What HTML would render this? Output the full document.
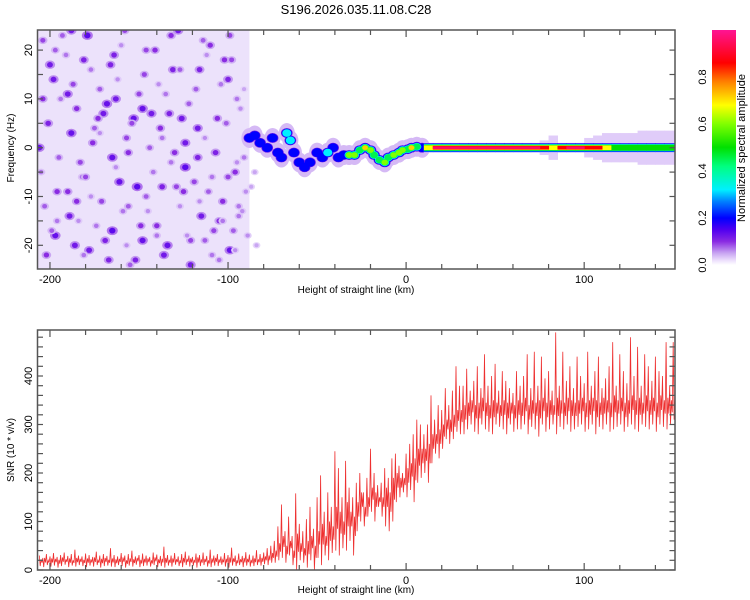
<!DOCTYPE html>
<html><head><meta charset="utf-8">
<style>
html,body{margin:0;padding:0;background:#fff;}
svg{display:block;font-family:"Liberation Sans",sans-serif;}
</style></head>
<body>
<svg id="chart" width="750" height="600" viewBox="0 0 750 600" xmlns="http://www.w3.org/2000/svg">
<defs>
<linearGradient id="cmap" x1="0" y1="1" x2="0" y2="0">
<stop offset="0" stop-color="#ffffff"/><stop offset="0.02" stop-color="#ecdffc"/><stop offset="0.05" stop-color="#c9a6f2"/>
<stop offset="0.1" stop-color="#8a2be2"/><stop offset="0.15" stop-color="#5000f0"/><stop offset="0.2" stop-color="#0000ff"/>
<stop offset="0.27" stop-color="#0080ff"/><stop offset="0.32" stop-color="#00f0ff"/><stop offset="0.42" stop-color="#00ff80"/>
<stop offset="0.5" stop-color="#00e000"/><stop offset="0.6" stop-color="#80ff00"/><stop offset="0.68" stop-color="#ffff00"/>
<stop offset="0.78" stop-color="#ff8000"/><stop offset="0.86" stop-color="#ff0000"/><stop offset="1" stop-color="#ff1493"/>
</linearGradient>
<clipPath id="clipTop"><rect x="37.5" y="30" width="637.5" height="239"/></clipPath>
<clipPath id="clipBot"><rect x="37.5" y="330" width="637.5" height="240"/></clipPath>
</defs>
<text x="356" y="14" font-size="13" text-anchor="middle" fill="#000">S196.2026.035.11.08.C28</text>
<g id="topMarks" clip-path="url(#clipTop)"></g>
<g id="botMarks" clip-path="url(#clipBot)"></g>
<g id="axes"></g>
<rect x="712" y="30" width="24" height="235" fill="url(#cmap)"/>
<text transform="translate(745,148) rotate(-90)" font-size="11" text-anchor="middle" fill="#000">Normalized spectral amplitude</text>
<text x="356" y="293" font-size="10" text-anchor="middle">Height of straight line (km)</text>
<text x="356" y="593" font-size="10" text-anchor="middle">Height of straight line (km)</text>
<text transform="translate(14,148) rotate(-90)" font-size="10" text-anchor="middle">Frequency (Hz)</text>
<text transform="translate(14,450) rotate(-90)" font-size="10" text-anchor="middle">SNR (10 * v/v)</text>
</svg>
<script>
const xTickLabels=[-200,-100,0,100];
const topYTickLabels=[-20,-10,0,10,20];
const botYTickLabels=[0,100,200,300,400];
const cbarTickLabels=[0.0,0.2,0.4,0.6,0.8];

const noiseKm=[-204,-198,-191,-185,-179,-172,-166,-160,-153,-147,-141,-135,-128,-122,-116,-110,-104,-98,-93,-88,
-201,-195,-188,-182,-176,-170,-163,-157,-151,-144,-138,-132,-126,-119,-113,-107,-101,-96,-91,-86,
-203,-197,-190,-184,-178,-171,-165,-159,-152,-146,-140,-134,-127,-121,-115,-109,-103,-97,-92,-87,
-200,-194,-187,-181,-175,-168,-162,-156,-150,-143,-137,-131,-124,-118,-112,-106,-100,-95,-90,-85,
-205,-196,-189,-183,-177,-169,-161,-155,-149,-142,-136,-129,-123,-117,-111,-105,-99,-94,-89,-84,
-202,-193,-186,-177,-167,-158,-148,-139,-130,-121,-114,-105,-99,-95,
-204,-196,-188,-180,-172,-164,-156,-148,-140,-132,-124,-116,-108,-100,-94,
-199,-190,-181,-173,-165,-157,-146,-137,-127,-117,-109,-102,-96,-91,
-206,-197,-185,-174,-163,-154,-145,-133,-125,-113,-103];
const noiseHz=[22,14,19,8,23,12,17,21,6,15,20,11,24,9,16,21,13,18,8,3,
5,-2,3,-6,1,7,-4,2,-8,0,4,-3,6,-7,2,-1,5,-5,-2,1,
-12,-18,-9,-15,-21,-11,-17,-13,-23,-10,-16,-20,-12,-19,-14,-22,-11,-17,-13,-8,
17,10,13,18,4,9,14,-1,11,7,2,16,-4,12,19,6,-6,10,-9,-5,
-5,-9,-14,-3,-10,-19,-7,-24,-16,-5,-22,-8,-18,-2,-9,-15,-21,-12,-18,-20,
-22,23,-20,16,-23,24,-19,13,-1,-24,22,-23,23,-3,
10,-15,24,-6,3,19,-12,8,-18,23,1,-11,-17,14,-14,
-17,11,-22,6,-2,-20,20,-8,16,4,-6,18,-21,12,
0,20,-11,-16,10,5,-13,7,-9,-19,-15];
const noiseAmp=[0.09,0.12,0.07,0.1,0.14,0.08,0.11,0.06,0.13,0.09,0.1,0.07,0.12,0.08,0.11,0.1,0.07,0.09,0.06,0.05,
0.11,0.08,0.13,0.07,0.1,0.12,0.06,0.09,0.14,0.08,0.1,0.07,0.12,0.09,0.06,0.11,0.08,0.1,0.07,0.06,
0.08,0.13,0.1,0.06,0.12,0.09,0.14,0.07,0.11,0.08,0.1,0.13,0.06,0.09,0.12,0.07,0.1,0.08,0.06,0.05,
0.12,0.07,0.09,0.11,0.08,0.13,0.06,0.1,0.09,0.12,0.07,0.11,0.14,0.08,0.06,0.1,0.09,0.07,0.06,0.05,
0.07,0.1,0.12,0.09,0.06,0.11,0.13,0.08,0.1,0.07,0.12,0.09,0.06,0.11,0.08,0.1,0.13,0.07,0.06,0.05,
0.1,0.08,0.12,0.07,0.11,0.09,0.13,0.06,0.1,0.12,0.08,0.07,0.09,0.06,
0.1,0.07,0.12,0.09,0.06,0.11,0.08,0.13,0.07,0.1,0.12,0.06,0.09,0.11,0.07,
0.08,0.12,0.07,0.1,0.13,0.06,0.09,0.11,0.08,0.12,0.07,0.1,0.06,0.05,
0.13,0.08,0.1,0.07,0.12,0.09,0.06,0.11,0.1,0.08,0.07];

const ridgeKm=[-88,-85,-82,-78,-75,-72,-70,-67,-65,-63,-60,-57,-54,-50,-47,-44,-41,-38,-35,-32,-29,-26,-23,-20,-18,-15,-12,-10,-7,-4,-2,1,3,6,9];
const ridgeHz=[2,2.5,1,0,2,-1,-2,3,1.5,-1,-3,-4,-3,-1,-2,-1,0,-2,-1.5,-1.5,-1.5,-0.5,0,-0.5,-1.5,-2.5,-3,-2,-1.5,-1,-0.5,-0.3,0,0.2,0];
const ridgeAmp=[0.25,0.3,0.3,0.3,0.3,0.25,0.3,0.35,0.35,0.2,0.2,0.3,0.25,0.25,0.3,0.35,0.3,0.2,0.3,0.6,0.7,0.5,0.85,0.6,0.55,0.5,0.6,0.5,0.6,0.7,0.6,0.5,0.8,0.5,0.3];

const bandKm=[10,15,20,25,30,35,40,45,50,55,60,65,70,75,80,85,90,95,100,105,110,115,120,125,130,135,140,145];
const bandAmp=[0.7,0.95,0.97,0.97,0.97,0.97,0.97,0.97,0.97,0.97,0.97,0.95,0.95,0.9,0.7,0.92,0.95,0.95,0.93,0.88,0.7,0.65,0.62,0.6,0.62,0.6,0.62,0.65];
const bandSpread=[1,1,1,1,1,1,1,1,1,1,1,1,1,1.5,2.5,1,1,1,2,2.5,3,3,3,3,3.5,3.5,3.5,3.5];

const snrHigh=[30,25,33,28,35,27,31,36,29,33,42,30,28,34,31,27,38,30,33,29,45,31,28,35,30,33,40,28,31,34,30,27,36,32,29,48,31,30,35,28,33,38,30,27,34,31,36,29,42,30,33,28,35,31,46,30,34,29,37,32,30,41,33,36,45,50,
60,90,135,80,110,70,158,95,80,105,130,85,150,195,120,160,130,245,210,150,
225,170,150,180,200,160,190,250,200,175,180,210,190,230,240,215,200,
240,260,280,310,300,280,300,360,310,340,330,375,340,370,420,380,
380,415,370,390,420,375,445,380,400,425,370,410,390,375,365,410,380,400,445,375,450,380,440,395,410,370,490,380,450,390,420,375,440,400,385,450,380,410,440,375,395,420,470,380,445,410,385,480,400,460,380,445,420,390,440,410,400,470,380,470];
const snrLow=[8,6,10,7,9,5,8,11,6,9,7,10,8,6,9,7,10,5,8,9,7,6,10,8,5,9,7,11,6,8,9,7,10,6,8,5,9,7,11,8,6,10,7,9,5,8,10,7,6,9,8,11,7,5,9,8,10,6,9,7,8,10,9,12,10,15,
15,20,25,15,30,10,0,20,15,5,20,0,25,10,30,20,35,40,30,45,
40,60,30,80,100,90,110,120,100,130,110,90,80,100,140,150,160,
150,165,140,180,190,200,180,220,240,230,250,270,260,270,285,280,
280,290,300,285,280,300,290,285,280,300,295,290,280,300,285,290,290,300,280,295,290,275,300,285,290,300,280,295,290,300,285,290,295,300,285,290,300,280,295,290,300,285,290,295,300,285,295,300,290,285,300,295,290,300,285,300,295,290,300,310];
const snrCore=[22,25,20,24,23,21,26,22,24,20,25,23,21,24,22,26,20,23,25,21,24,22,23,26,20,24,22,25,21,23,24,20,26,22,23,25,21,24,22,20,25,23,24,21,26,22,23,20,24,25,22,21,23,26,24,20,22,25,23,21,24,22,25,28,30,35,
40,55,70,50,60,40,75,55,45,60,70,50,80,95,70,100,90,130,120,100,
140,120,110,140,160,130,150,170,160,150,150,170,160,190,200,190,190,
210,220,230,250,250,250,260,280,280,290,300,310,310,320,330,330,
340,345,350,340,345,355,345,340,350,345,340,350,345,345,340,350,345,355,340,350,345,350,355,345,350,340,355,350,345,355,350,345,350,355,345,350,355,350,345,355,350,345,360,350,355,345,350,360,350,355,345,360,350,355,345,360,350,355,350,360];
const snrStartKm=-206, snrStepKm=2;

const NS="http://www.w3.org/2000/svg";
const X=km=>37.5+(km+207)*(637.5/358);
const YT=hz=>147.7-hz*4.88;
const YB=v=>570-v*0.485;
const stops=[[0,[255,255,255]],[0.02,[236,223,252]],[0.05,[201,166,242]],[0.1,[138,43,226]],[0.15,[80,0,240]],[0.2,[0,0,255]],[0.27,[0,128,255]],[0.32,[0,240,255]],[0.42,[0,255,128]],[0.5,[0,224,0]],[0.6,[128,255,0]],[0.68,[255,255,0]],[0.78,[255,128,0]],[0.86,[255,0,0]],[1,[255,20,147]]];
function cmap(a){for(let i=1;i<stops.length;i++){if(a<=stops[i][0]){const [a0,c0]=stops[i-1],[a1,c1]=stops[i];const t=(a-a0)/(a1-a0);return 'rgb('+c0.map((c,j)=>Math.round(c+(c1[j]-c)*t)).join(',')+')';}}return 'rgb(255,20,147)';}
function el(tag,attrs,parent){const e=document.createElementNS(NS,tag);for(const k in attrs)e.setAttribute(k,attrs[k]);parent.appendChild(e);return e;}

const topG=document.getElementById('topMarks');
const haze=el('rect',{x:X(-207),y:30,width:X(-88)-X(-207),height:239,fill:'#ece2fb'},topG);


for(let i=0;i<noiseKm.length;i++){
  const a=noiseAmp[i];
  const c=el('ellipse',{cx:X(noiseKm[i]),cy:YT(noiseHz[i]),rx:3+a*18,ry:2.5+a*14,fill:cmap(a*0.5)},topG);
  
  
  el('ellipse',{cx:X(noiseKm[i]),cy:YT(noiseHz[i]),rx:1.5+a*12,ry:1.5+a*10,fill:cmap(a)},topG);
}
const levels=[0.04,0.12,0.2,0.32,0.45,0.6,0.72,0.86,0.95];
levels.forEach((L,li)=>{
  for(let i=0;i<ridgeKm.length;i++){
    if(ridgeAmp[i]<L)continue;
    const s=1-li*0.1;
    const e=el('ellipse',{cx:X(ridgeKm[i]),cy:YT(ridgeHz[i]),rx:(li===0?8:6.5)*s,ry:(li===0?10:5.5)*s,fill:cmap(L)},topG);
    
    
  }
});
const bandLevels=[[0.03,null],[0.2,0.9],[0.32,0.75],[0.5,0.62],[0.68,0.48],[0.86,0.38],[0.95,0.28]];
bandLevels.forEach(([L,hw])=>{
  for(let i=0;i<bandKm.length;i++){
    if(bandAmp[i]<L)continue;
    const h=hw===null?bandSpread[i]:hw;
    const x0=X(bandKm[i]), x1=X(i+1<bandKm.length?bandKm[i+1]:151);
    const r=el('rect',{x:x0,y:YT(h),width:x1-x0+0.5,height:YT(-h)-YT(h),fill:cmap(L)},topG);
    
    
  }
});

const botG=document.getElementById('botMarks');
let pts=[];
for(let i=0;i<snrHigh.length;i++){
  const km=snrStartKm+i*snrStepKm;
  pts.push(X(km).toFixed(1)+','+YB(snrHigh[i]).toFixed(1));
  pts.push(X(km+0.5).toFixed(1)+','+YB(snrLow[i]).toFixed(1));
  pts.push(X(km+1).toFixed(1)+','+YB(snrCore[i]).toFixed(1));
  pts.push(X(km+1.5).toFixed(1)+','+YB((snrLow[i]+snrCore[i])/2).toFixed(1));
}
const line=el('polyline',{points:pts.join(' '),fill:'none',stroke:'#ee3030','stroke-width':0.8},botG);



const ax=document.getElementById('axes');
function frame(y0,y1,name,yfun,labels,minorStep,yr){
  const f=el('rect',{x:37.5,y:y0,width:637.5,height:y1-y0,fill:'none',stroke:'#555','stroke-width':1.5},ax);
  
  
  for(let km=-200;km<=150;km+=20){
    const x=X(km);const len=(km%100===0)?7:5;
    el('line',{x1:x,y1:y1,x2:x,y2:y1-len,stroke:'#555','stroke-width':1.2},ax);
    el('line',{x1:x,y1:y0,x2:x,y2:y0+len,stroke:'#555','stroke-width':1.2},ax);
  }
  for(let v=yr[0];v<=yr[1];v+=minorStep){
    const y=yfun(v); if(y<y0||y>y1)continue;
    el('line',{x1:37.5,y1:y,x2:43,y2:y,stroke:'#555','stroke-width':1.2},ax);
    el('line',{x1:675,y1:y,x2:669.5,y2:y,stroke:'#555','stroke-width':1.2},ax);
  }
  xTickLabels.forEach(v=>{
    const t=el('text',{x:X(v),y:y1+14,'font-size':11,'text-anchor':'middle'},ax);t.textContent=v;
    
    
  });
  labels.forEach(v=>{
    const t=el('text',{transform:'translate(32,'+yfun(v)+') rotate(-90)','font-size':11,'text-anchor':'middle'},ax);t.textContent=v;
    
    
  });
}
frame(30,269,'spectrogram-frame',YT,topYTickLabels,5,[-25,25]);
frame(330,570,'snr-frame',YB,botYTickLabels,20,[0,500]);
const CB=a=>265-a*235;
cbarTickLabels.forEach(v=>{
  const t=el('text',{transform:'translate(706,'+CB(v)+') rotate(-90)','font-size':11,'text-anchor':'middle'},ax);t.textContent=v.toFixed(1);
  
  
});
</script>
</body></html>
